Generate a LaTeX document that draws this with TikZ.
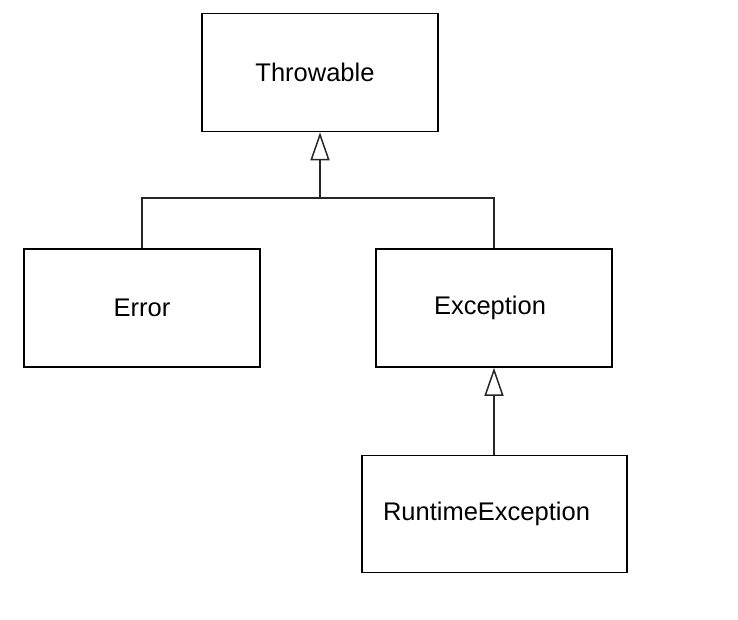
\documentclass[tikz,border=0pt]{standalone}
\usepackage{fontspec}
\setmainfont{Liberation Sans}
\usetikzlibrary{arrows.meta}
\begin{document}
\begin{tikzpicture}[x=1pt,y=-1pt,
  cls/.style={draw, line width=1.6pt, minimum width=236pt, minimum height=118pt, inner sep=0pt,
    font=\fontsize{25.5}{28}\selectfont, text=black},
  link/.style={line width=1.5pt, draw=black!85},
  inh/.style={link, -{Triangle[open, length=28pt, width=19pt, line width=1.5pt]}}]
\useasboundingbox (0,0) rectangle (738,620);
\node[cls] (T) at (320,72.5) {\hspace*{-10pt}Throwable};
\node[cls] (Err) at (142,308) {Error};
\node[cls] (Exc) at (494,308) {\hspace*{-8pt}Exception};
\node[cls, minimum width=265pt, minimum height=117pt] (RT) at (494.5,514) {\hspace*{-16pt}RuntimeException};
\coordinate (J) at (320,198);
\draw[link] (Err.north) |- (J) -| (Exc.north);
\draw[inh] (J) -- (T.south);
\draw[inh] (RT.north -| Exc.south) -- (Exc.south);
\end{tikzpicture}
\end{document}
